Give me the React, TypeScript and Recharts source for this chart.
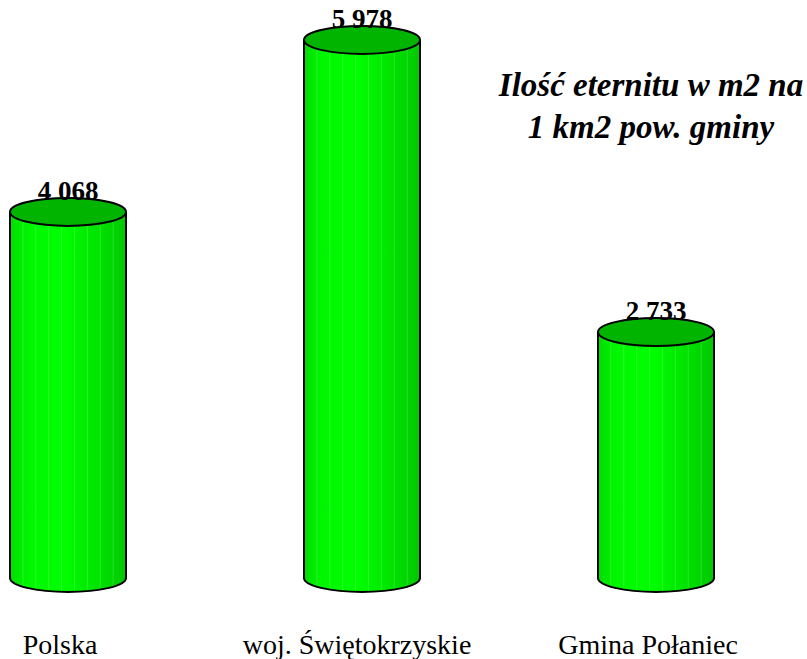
import { BarChart, Bar, XAxis, YAxis, LabelList } from 'recharts';

const categories = ['Polska', 'woj. Świętokrzyskie', 'Gmina Połaniec'];
const values = [4068, 5978, 2733];
const titleLines = ['Ilość eternitu w m2 na', '1 km2 pow. gminy'];

const data = categories.map((name, i) => ({ name, value: values[i] }));

// labels in the original sit a little left of the bar centres
const LABEL_SHIFT = [-8, -5, -8];
const SERIF = "'Liberation Serif', 'Times New Roman', Times, 'DejaVu Serif', serif";

const fmt = (v: number) => String(v).replace(/\B(?=(\d{3})+(?!\d))/g, ' ');

function Cylinder(props: any) {
  const { x, y, width, height, index } = props;
  const rx = width / 2;
  const ry = 14;
  const cx = x + rx;
  const bottom = y + height;
  const gid = `cyl-grad-${index}`;
  const stripes = [];
  for (let i = 1; i < 9; i++) {
    const lx = x + (width * i) / 9;
    const t = (lx - cx) / rx;
    const ly = bottom + ry * Math.sqrt(Math.max(0, 1 - t * t)) - 1;
    stripes.push(
      <line key={i} x1={lx} y1={y} x2={lx} y2={ly} stroke="#ffffff" strokeOpacity={0.18} strokeWidth={1} />
    );
  }
  return (
    <g>
      <defs>
        <linearGradient id={gid} x1="0" y1="0" x2="1" y2="0">
          <stop offset="0%" stopColor="#00dc00" />
          <stop offset="15%" stopColor="#00f600" />
          <stop offset="45%" stopColor="#00ff00" />
          <stop offset="75%" stopColor="#00e400" />
          <stop offset="100%" stopColor="#00c800" />
        </linearGradient>
      </defs>
      <path
        d={`M${x},${y} L${x},${bottom} A${rx},${ry} 0 0 0 ${x + width},${bottom} L${x + width},${y} Z`}
        fill={`url(#${gid})`}
      />
      {stripes}
      <path
        d={`M${x},${y} L${x},${bottom} A${rx},${ry} 0 0 0 ${x + width},${bottom} L${x + width},${y}`}
        fill="none"
        stroke="#000"
        strokeWidth={2}
      />
      <ellipse cx={cx} cy={y} rx={rx} ry={ry} fill="#00b400" stroke="#000" strokeWidth={2} />
    </g>
  );
}

function ValueLabel(props: any) {
  const { x, y, width, value } = props;
  return (
    <text
      x={x + width / 2}
      y={y - 12}
      textAnchor="middle"
      style={{ fontFamily: SERIF, fontWeight: 'bold', fontSize: 27 }}
      fill="#000"
    >
      {fmt(value)}
    </text>
  );
}

function CategoryTick(props: any) {
  const { x, y, payload, index } = props;
  return (
    <text
      x={x + (LABEL_SHIFT[index] ?? 0)}
      y={y}
      dy={68}
      textAnchor="middle"
      style={{ fontFamily: SERIF, fontSize: 28 }}
      fill="#000"
    >
      {payload.value}
    </text>
  );
}

export default function App() {
  return (
    <div style={{ position: 'absolute', left: 0, top: 0, width: 807, height: 659, overflow: 'hidden', background: '#fff' }}>
      <BarChart width={807} height={659} data={data} margin={{ top: 38, right: 4, bottom: 21, left: -79 }}>
        <XAxis dataKey="name" axisLine={false} tickLine={false} height={60} tick={<CategoryTick />} interval={0} />
        <YAxis hide domain={[0, 6000]} />
        <Bar dataKey="value" barSize={116} shape={<Cylinder />} isAnimationActive={false}>
          <LabelList dataKey="value" content={<ValueLabel />} />
        </Bar>
      </BarChart>
      <div
        style={{
          position: 'absolute',
          left: 451,
          top: 64,
          width: 400,
          textAlign: 'center',
          fontFamily: SERIF,
          fontWeight: 'bold',
          fontStyle: 'italic',
          fontSize: 33,
          lineHeight: '42px',
        }}
      >
        {titleLines.map((l) => (
          <div key={l}>{l}</div>
        ))}
      </div>
    </div>
  );
}
